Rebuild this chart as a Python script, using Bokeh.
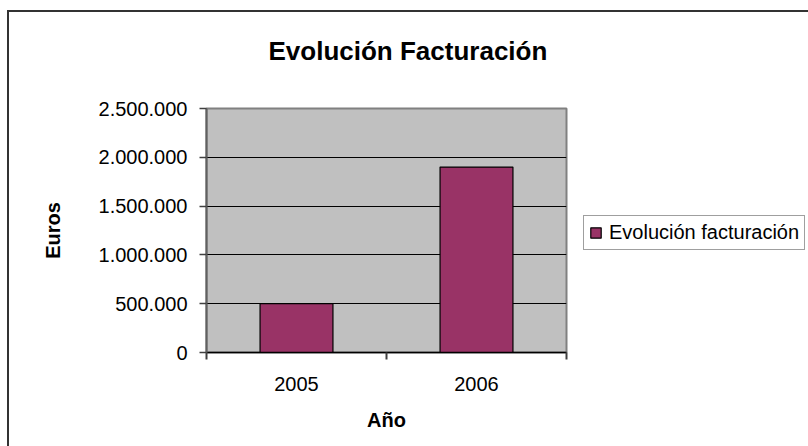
from bokeh.plotting import figure
from bokeh.models import (FixedTicker, Legend, LegendItem, ColumnDataSource,
                          Title)
from bokeh.embed import file_html
from bokeh.resources import INLINE

# ---- data ----
years = ["2005", "2006"]
facturacion = [500000, 1900000]
y_ticks = [0, 500000, 1000000, 1500000, 2000000, 2500000]
y_tick_labels = ["0", "500.000", "1.000.000", "1.500.000", "2.000.000", "2.500.000"]
title_text = "Evolución Facturación"
series_name = "Evolución facturación"
x_label = "Año"
y_label = "Euros"

FONT = "Liberation Sans"
x_pos = [i + 0.5 for i in range(len(years))]
bounds = [float(i) for i in range(len(years) + 1)]
src = ColumnDataSource(dict(x=x_pos, y=facturacion, year=years))

p = figure(title=None, frame_width=360, frame_height=244,
           output_backend="svg", toolbar_location=None,
           x_range=(0, len(years)), y_range=(0, y_ticks[-1]),
           min_border_left=197, min_border_right=0,
           min_border_top=96, min_border_bottom=94)
p.styles = {"margin-left": "7px", "margin-top": "10px",
            "border-left": "2px solid #333333",
            "border-top": "2px solid #333333"}

xa = p.below[0]
ya = p.left[0]

p.background_fill_color = "#C0C0C0"
p.border_fill_color = "white"
p.outline_line_color = "#808080"
p.outline_line_width = 2

# blank spacer between frame and title
spacer = Title(text=" ", text_font=FONT, text_font_size="10px",
               text_color="white", standoff=25)
p.add_layout(spacer, "above")

# title
title = Title(text=title_text, align="left", offset=62,
              text_font=FONT, text_font_size="26px",
              text_font_style="bold", text_color="black", standoff=10)
p.add_layout(title, "above")

# grid
p.xgrid.visible = False
p.ygrid.ticker = FixedTicker(ticks=y_ticks)
p.ygrid.grid_line_color = "black"
p.ygrid.grid_line_width = 1

# x axis
xa.ticker = FixedTicker(ticks=x_pos, minor_ticks=bounds)
xa.major_label_overrides = {x: y for x, y in zip(x_pos, years)}
xa.major_tick_out = 0
xa.major_tick_in = 0
xa.minor_tick_out = 7
xa.minor_tick_in = 0
xa.minor_tick_line_color = "#404040"
xa.minor_tick_line_width = 2
xa.axis_line_color = "black"
xa.axis_line_width = 1.5
xa.major_label_text_font = FONT
xa.major_label_text_font_size = "20px"
xa.major_label_text_color = "black"
xa.major_label_standoff = 17
xa.axis_label = x_label
xa.axis_label_text_font = FONT
xa.axis_label_text_font_size = "20px"
xa.axis_label_text_font_style = "bold"
xa.axis_label_text_color = "black"
xa.axis_label_standoff = 15

# y axis
ya.ticker = FixedTicker(ticks=y_ticks)
ya.major_label_overrides = {t: s for t, s in zip(y_ticks, y_tick_labels)}
ya.major_tick_out = 7
ya.major_tick_in = 0
ya.major_tick_line_color = "#404040"
ya.major_tick_line_width = 1.5
ya.minor_tick_line_color = None
ya.axis_line_color = "#606060"
ya.axis_line_width = 2
ya.major_label_text_font = FONT
ya.major_label_text_font_size = "20px"
ya.major_label_text_color = "black"
ya.major_label_standoff = 12
ya.axis_label = y_label
ya.axis_label_text_font = FONT
ya.axis_label_text_font_size = "20px"
ya.axis_label_text_font_style = "bold"
ya.axis_label_text_color = "black"
ya.axis_label_standoff = 32

# bars
r = p.vbar(x="x", top="y", width=0.405, source=src,
           fill_color="#993366", line_color="black", line_width=1.2)

legend = Legend(items=[LegendItem(label=series_name, renderers=[r])],
                location=(17, 102))
legend.border_line_color = "#404040"
legend.border_line_width = 1
legend.background_fill_color = "white"
legend.background_fill_alpha = 1
legend.padding = 5
legend.margin = 0
legend.spacing = 0
legend.glyph_width = 13
legend.glyph_height = 13
legend.label_standoff = 7
legend.label_text_font = FONT
legend.label_text_font_size = "20px"
legend.label_text_color = "black"
p.add_layout(legend, "right")

open("out.html", "w").write(file_html(p, INLINE))
